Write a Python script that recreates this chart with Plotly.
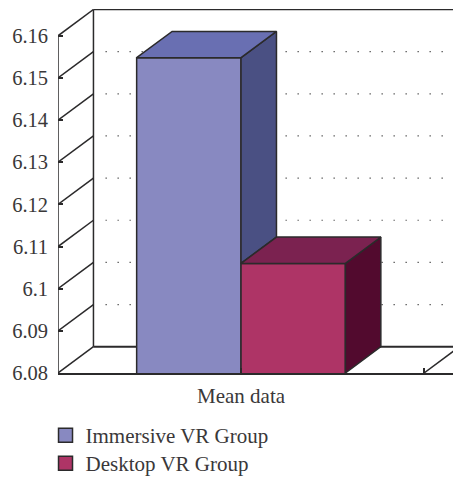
import plotly.graph_objects as go

# Values shown on the chart
group_names = ["Immersive VR Group", "Desktop VR Group"]
mean_values = [6.1548, 6.106]
category_labels = ["", "Mean data", ""]
y_ticks = [6.08, 6.09, 6.10, 6.11, 6.12, 6.13, 6.14, 6.15, 6.16]
y_tick_labels = ["6.08", "6.09", "6.1", "6.11", "6.12", "6.13", "6.14", "6.15", "6.16"]

front_colors = ["#8889C1", "#AE3466"]
top_colors = ["#696FB2", "#7B2250"]
side_colors = ["#4A5083", "#520A2E"]

# Oblique projection used for the pseudo-3D box
PLOT_LEFT, PLOT_TOP, PLOT_BOTTOM = 57.5, 9.0, 373.0
WIDTH, HEIGHT = 453, 478
PX_PER_X = 366.5
PX_PER_Y = 42.15 / 0.01
DEPTH_X = 35.5 / PX_PER_X
DEPTH_Y = 26.3 / PX_PER_Y
BAR_W = 104.5 / PX_PER_X
Y_MIN = y_ticks[0]
Y_MAX = Y_MIN + (PLOT_BOTTOM - PLOT_TOP) / PX_PER_Y
X_MAX = (WIDTH - PLOT_LEFT) / PX_PER_X

INK = "#2B2A2B"
TEXT = "#3A3839"
FONT = "Liberation Serif"
TICK_SIZE = 20.5
LABEL_SIZE = 21

fig = go.Figure()
shapes = []


def frame_line(x0, y0, x1, y1, **style):
    shapes.append(dict(type="line", xref="x", yref="y", x0=x0, y0=y0, x1=x1, y1=y1,
                       layer="below", line=dict(color=INK, width=style.get("width", 1.5),
                                                dash=style.get("dash", "solid"))))


top = y_ticks[-1]
frame_line(0, Y_MIN, 0, top)
frame_line(DEPTH_X, Y_MIN + DEPTH_Y, DEPTH_X, top + DEPTH_Y)
frame_line(DEPTH_X, top + DEPTH_Y, 1 + DEPTH_X, top + DEPTH_Y)
frame_line(DEPTH_X, Y_MIN + DEPTH_Y, 1 + DEPTH_X, Y_MIN + DEPTH_Y, width=2)
frame_line(1, Y_MIN, 1 + DEPTH_X, Y_MIN + DEPTH_Y)
for tick in y_ticks:
    frame_line(0, tick, DEPTH_X, tick + DEPTH_Y)
for tick in y_ticks[1:-1]:
    shapes.append(dict(type="line", xref="x", yref="y", layer="below",
                       x0=DEPTH_X + 12 / PX_PER_X, y0=tick + DEPTH_Y,
                       x1=1 + DEPTH_X - 16 / PX_PER_X, y1=tick + DEPTH_Y,
                       line=dict(color="#666666", width=1.2, dash="1.5px,10.5px")))

# Front faces
for i, value in enumerate(mean_values):
    fig.add_trace(go.Bar(x=[0.5], y=[value], width=BAR_W, offset=(i - 1) * BAR_W,
                         marker=dict(color=front_colors[i], line=dict(color=INK, width=1.5)),
                         showlegend=False, hoverinfo="skip"))

# Side and top faces; the first side stops where the neighbouring box begins
for i, value in enumerate(mean_values):
    x0 = 0.5 + (i - 1) * BAR_W
    x1 = x0 + BAR_W
    floor = mean_values[i + 1] if i + 1 < len(mean_values) else Y_MIN
    fig.add_trace(go.Scatter(
        x=[x1, x1 + DEPTH_X, x1 + DEPTH_X, x1, x1],
        y=[value, value + DEPTH_Y, floor + DEPTH_Y, floor, value],
        mode="lines", fill="toself", fillcolor=side_colors[i],
        line=dict(color=INK, width=1.5), showlegend=False, hoverinfo="skip"))
for i, value in enumerate(mean_values):
    x0 = 0.5 + (i - 1) * BAR_W
    x1 = x0 + BAR_W
    fig.add_trace(go.Scatter(
        x=[x0, x0 + DEPTH_X, x1 + DEPTH_X, x1, x0],
        y=[value, value + DEPTH_Y, value + DEPTH_Y, value, value],
        mode="lines", fill="toself", fillcolor=top_colors[i],
        line=dict(color=INK, width=1.5), showlegend=False, hoverinfo="skip"))

# Legend entries, one legend per row so the row spacing can be set directly
legend_keys = ["legend", "legend2"]
legend_rows = [435.5, 463.5]
for name, color, key in zip(group_names, front_colors, legend_keys):
    fig.add_trace(go.Scatter(x=[None], y=[None], mode="markers", name=name, legend=key,
                             marker=dict(symbol="square", size=14, color=color,
                                         line=dict(color=INK, width=1.5))))


def legend_at(row_y):
    return dict(xref="paper", yref="container", x=(45 - PLOT_LEFT) / (WIDTH - PLOT_LEFT), xanchor="left",
                y=1 - row_y / HEIGHT, yanchor="middle", bgcolor="rgba(0,0,0,0)",
                font=dict(family=FONT, size=LABEL_SIZE, color=TEXT))


fig.update_layout(
    width=WIDTH, height=HEIGHT,
    margin=dict(l=PLOT_LEFT, r=0, t=PLOT_TOP, b=HEIGHT - PLOT_BOTTOM, pad=0),
    paper_bgcolor="white", plot_bgcolor="white",
    barmode="overlay",
    font=dict(family=FONT, size=TICK_SIZE, color=TEXT),
    shapes=shapes,
    legend=legend_at(legend_rows[0]),
    legend2=legend_at(legend_rows[1]),
    xaxis=dict(range=[0, X_MAX], tickmode="array", tickvals=[0, 0.5, 1], ticktext=category_labels,
               ticks="inside", ticklen=5, tickwidth=1.5, tickcolor=INK, showgrid=False, zeroline=False,
               showline=True, linecolor=INK, linewidth=2, layer="above traces", ticklabelstandoff=3,
               tickfont=dict(family=FONT, size=LABEL_SIZE, color=TEXT)),
    yaxis=dict(range=[Y_MIN, Y_MAX], tickmode="array", tickvals=y_ticks, ticktext=y_tick_labels,
               ticks="inside", ticklen=5, tickwidth=1.5, tickcolor=INK, showgrid=False, zeroline=False,
               showline=False, ticklabelstandoff=9,
               tickfont=dict(family=FONT, size=TICK_SIZE, color=TEXT)),
)

fig.write_html("out.html", config=dict(displayModeBar=False))
